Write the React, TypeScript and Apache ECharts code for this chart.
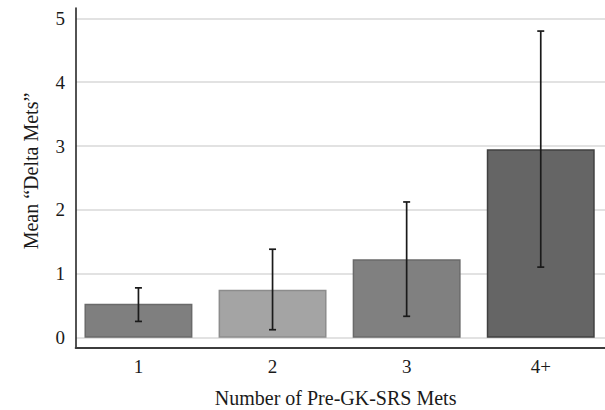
import React, { useEffect, useRef } from "react";
import * as echarts from "echarts";

const categories = ["1", "2", "3", "4+"];
const means = [0.53, 0.75, 1.23, 2.95];
const lowerCI = [0.255, 0.125, 0.335, 1.105];
const upperCI = [0.78, 1.385, 2.125, 4.8];
const barColors = ["#7f7f7f", "#a4a4a4", "#808080", "#656565"];
const barBorders = ["#6a6a6a", "#8c8c8c", "#6a6a6a", "#404040"];
const yTicks = [0, 1, 2, 3, 4, 5];

const FONT = "'Liberation Serif', 'DejaVu Serif', serif";

export default function App() {
  const ref = useRef<HTMLDivElement>(null);
  useEffect(() => {
    if (!ref.current) return;
    const chart = echarts.init(ref.current, undefined, { renderer: "svg" });
    const errData = categories.map((c, i) => [i, lowerCI[i], upperCI[i]]);
    chart.setOption({
      animation: false,
      backgroundColor: "#ffffff",
      grid: [
        { left: 76, right: 0, top: 18.3, bottom: 72.3, containLabel: false, outerBoundsMode: "none" },
        { left: 71.4, right: -2.8, top: 18.3, bottom: 72.3, containLabel: false, outerBoundsMode: "none" },
        { left: 75.7, right: 0, top: 8, bottom: 62.3, containLabel: false, outerBoundsMode: "none" },
      ],
      xAxis: [
        {
          gridIndex: 0,
          type: "value",
          min: 0,
          max: 1,
          show: false,
        },
        {
          gridIndex: 1,
          type: "category",
          data: categories,
          axisLine: { show: false },
          axisTick: { show: false },
          axisLabel: {
            margin: 19,
            fontFamily: FONT,
            fontSize: 19,
            color: "#1a1a1a",
          },
          name: "Number of Pre-GK-SRS Mets",
          nameLocation: "middle",
          nameGap: 50,
          nameTextStyle: {
            fontFamily: FONT,
            fontSize: 20,
            color: "#1a1a1a",
            padding: [0, 8, 0, 0],
          },
        },
        {
          gridIndex: 2,
          type: "value",
          min: 0,
          max: 1,
          axisLine: { show: true, onZero: false, lineStyle: { color: "#3c3c3c", width: 2 } },
          axisTick: { show: false },
          axisLabel: { show: false },
          splitLine: { show: false },
        },
      ],
      yAxis: [
        {
          gridIndex: 0,
          type: "value",
          min: yTicks[0],
          max: yTicks[yTicks.length - 1],
          interval: 1,
          axisLine: { show: false },
          axisTick: { show: false },
          axisLabel: {
            margin: 11,
            fontFamily: FONT,
            fontSize: 19,
            color: "#1a1a1a",
          },
          splitLine: { show: true, lineStyle: { color: "#d9d9d9", width: 1.5 } },
          name: "Mean \u201CDelta Mets\u201D",
          nameLocation: "middle",
          nameGap: 35,
          nameTextStyle: {
            fontFamily: FONT,
            fontSize: 20,
            color: "#1a1a1a",
            padding: [0, 0, 0, 14],
          },
        },
        {
          gridIndex: 1,
          type: "value",
          min: 0,
          max: 5,
          show: false,
        },
        {
          gridIndex: 2,
          type: "value",
          min: 0,
          max: 1,
          axisLine: { show: true, onZero: false, lineStyle: { color: "#1a1a1a", width: 1.5 } },
          axisTick: { show: false },
          axisLabel: { show: false },
          splitLine: { show: false },
        },
      ],
      series: [
        {
          type: "bar",
          xAxisIndex: 1,
          yAxisIndex: 1,
          barCategoryGap: "19.5%",
          data: means.map((v, i) => ({
            value: v,
            itemStyle: { color: barColors[i], borderColor: barBorders[i], borderWidth: 1.5 },
          })),
        },
        {
          type: "custom",
          xAxisIndex: 1,
          yAxisIndex: 1,
          data: errData,
          z: 10,
          renderItem: (params: any, api: any) => {
            const x = api.value(0);
            const lo = api.coord([x, api.value(1)]);
            const hi = api.coord([x, api.value(2)]);
            const hw = 3.5;
            const style = { stroke: "#1a1a1a", lineWidth: 1.7 };
            return {
              type: "group",
              children: [
                { type: "line", shape: { x1: hi[0], y1: hi[1], x2: lo[0], y2: lo[1] }, style },
                { type: "line", shape: { x1: hi[0] - hw, y1: hi[1], x2: hi[0] + hw, y2: hi[1] }, style },
                { type: "line", shape: { x1: lo[0] - hw, y1: lo[1], x2: lo[0] + hw, y2: lo[1] }, style },
              ],
            };
          },
        },
      ],
    });
    return () => chart.dispose();
  }, []);
  return (
    <div
      ref={ref}
      style={{ position: "fixed", left: 0, top: 0, width: 605, height: 410 }}
    />
  );
}
